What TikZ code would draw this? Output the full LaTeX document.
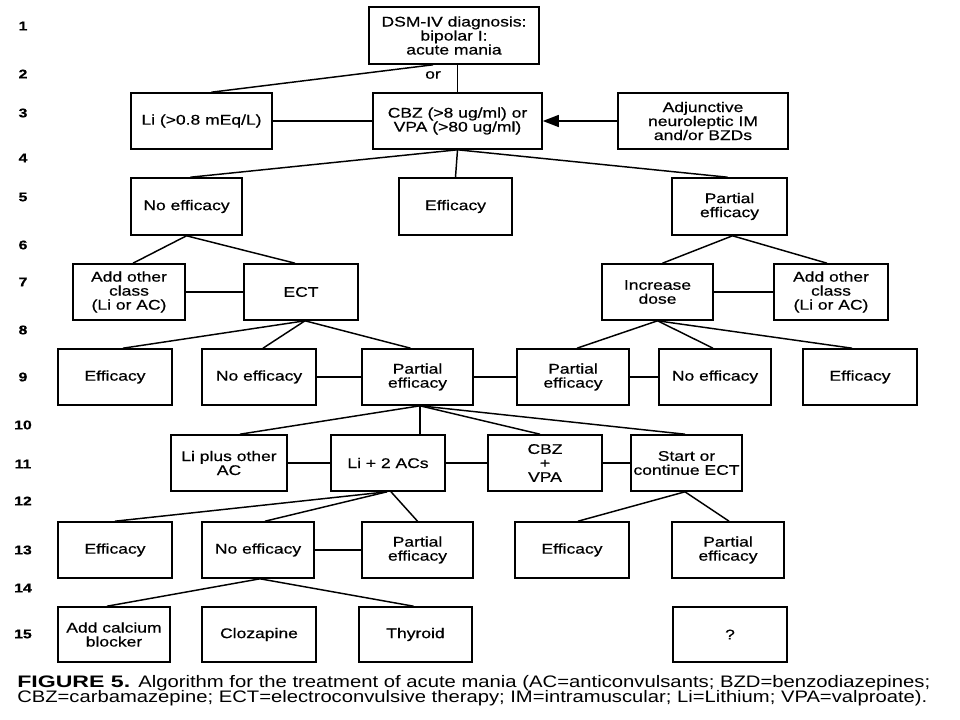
\documentclass[tikz,border=0pt]{standalone}
\usepackage{fontspec}
\setmainfont{Liberation Sans}
\newfontfamily\boxfont[FakeStretch=1.25,FakeBold=0.6]{Liberation Sans}
\usetikzlibrary{arrows.meta,calc}
\newcommand\bx[6]{\node[box, minimum width={(#4-#2)*0.75pt}, minimum height={(#5-#3)*0.75pt}] (#1) at ({(#2+#4)/2},{(#3+#5)/2}) {#6};}
\tikzset{
  box/.style={draw, line width=1.2pt, inner sep=0pt, align=center,
    font=\boxfont\fontsize{10.5}{10.5}\selectfont},
  conn/.style={line width=1.1pt},
  rownum/.style={inner sep=0pt, font=\boxfont\bfseries\fontsize{9.5}{10}\selectfont},
  captxt/.style={anchor=base west, inner sep=0pt}
}
\begin{document}
\begin{tikzpicture}[x=0.75pt, y=-0.75pt]
\fill[white] (0,0) rectangle (960,720);
\useasboundingbox (0,0) rectangle (960,720);

% row numbers
\foreach \n/\yy in {1/26,2/74,3/113,4/158,5/197,6/245,7/282,8/330,9/377,10/425,11/464,12/501,13/550,14/588,15/634}
  \node[rownum] (r\n) at (23,\yy) {\n};

% boxes
\bx{dsm}{369}{7}{539}{64}{DSM-IV diagnosis:\\bipolar I:\\acute mania}
\bx{li}{131}{93}{272}{149}{Li (>0.8 mEq/L)}
\bx{cbz}{373}{93}{542}{149}{CBZ (>8 ug/ml) or\\VPA (>80 ug/ml)}
\bx{adj}{618}{93}{788}{149}{Adjunctive\\neuroleptic IM\\and/or BZDs}
\bx{noA}{131}{178}{242}{235}{No efficacy}
\bx{effA}{399}{178}{512}{235}{Efficacy}
\bx{parA}{672}{178}{787}{235}{Partial\\efficacy}
\bx{addL}{73}{264}{185}{320}{Add other\\class\\(Li or AC)}
\bx{ect}{244}{264}{358}{320}{ECT}
\bx{inc}{602}{264}{713}{320}{Increase\\dose}
\bx{addR}{774}{264}{888}{320}{Add other\\class\\(Li or AC)}
\bx{effB}{58}{349}{172}{405}{Efficacy}
\bx{noB}{202}{349}{316}{405}{No efficacy}
\bx{parB}{362}{349}{473}{405}{Partial\\efficacy}
\bx{parC}{517}{349}{629}{405}{Partial\\efficacy}
\bx{noC}{659}{349}{771}{405}{No efficacy}
\bx{effC}{803}{349}{917}{405}{Efficacy}
\bx{liplus}{171}{435}{287}{491}{Li plus other\\AC}
\bx{li2}{331}{435}{445}{491}{Li + 2 ACs}
\bx{cv}{488}{435}{602}{491}{CBZ\\+\\VPA}
\bx{sect}{631}{435}{742}{491}{Start or\\continue ECT}
\bx{effD}{58}{522}{172}{578}{Efficacy}
\bx{noD}{202}{522}{314}{578}{No efficacy}
\bx{parD}{362}{522}{473}{578}{Partial\\efficacy}
\bx{effE}{515}{522}{629}{578}{Efficacy}
\bx{parE}{672}{522}{784}{578}{Partial\\efficacy}
\bx{cal}{58}{607}{170}{662}{Add calcium\\blocker}
\bx{clo}{202}{607}{316}{662}{Clozapine}
\bx{thy}{359}{607}{472}{662}{Thyroid}
\bx{q}{673}{607}{787}{662}{?}

\node[inner sep=0pt, font=\boxfont\fontsize{10.5}{10.5}\selectfont] (or) at (433,75) {or};

% connectors
\draw[conn] ($(dsm.south)+(-21,0)$) -- ($(li.north)+(10,0)$);
\draw[conn] (cbz.north |- dsm.south) -- (cbz.north);
\draw[conn] (li.east) -- (cbz.west);
\draw[conn, -{Triangle[length=12pt,width=9pt]}] (adj.west) -- (cbz.east);
\draw[conn] (cbz.south) -- ($(noA.north)+(4,0)$);
\draw[conn] (cbz.south) -- (effA.north);
\draw[conn] (cbz.south) -- ($(parA.north)+(-2,0)$);
\draw[conn] (noA.south) -- ($(addL.north)+(4,0)$);
\draw[conn] (noA.south) -- ($(ect.north)+(-6,0)$);
\draw[conn] (addL.east) -- (ect.west);
\draw[conn] ($(parA.south)+(3,0)$) -- ($(inc.north)+(5,0)$);
\draw[conn] ($(parA.south)+(3,0)$) -- ($(addR.north)+(-4,0)$);
\draw[conn] (inc.east) -- (addR.west);
\draw[conn] ($(ect.south)+(4,0)$) -- ($(effB.north)+(8,0)$);
\draw[conn] ($(ect.south)+(4,0)$) -- ($(noB.north)+(4,0)$);
\draw[conn] ($(ect.south)+(4,0)$) -- ($(parB.north)+(-7,0)$);
\draw[conn] (noB.east) -- (parB.west);
\draw[conn] (parB.east) -- (parC.west);
\draw[conn] (parC.east) -- (noC.west);
\draw[conn] (inc.south) -- ($(parC.north)+(4,0)$);
\draw[conn] (inc.south) -- ($(noC.north)+(-2,0)$);
\draw[conn] (inc.south) -- ($(effC.north)+(-8,0)$);
\coordinate (pbS) at ($(parB.south)+(2.5,0)$);
\draw[conn] (pbS) -- ($(liplus.north)+(11,0)$);
\draw[conn] (pbS) -- (pbS |- li2.north);
\draw[conn] (pbS) -- ($(cv.north)+(-5,0)$);
\draw[conn] (pbS) -- ($(sect.north)+(-1.5,0)$);
\draw[conn] (liplus.east) -- (li2.west);
\draw[conn] (li2.east) -- (cv.west);
\draw[conn] (cv.east) -- (sect.west);
\draw[conn] ($(li2.south)+(-1,0)$) -- (effD.north);
\draw[conn] ($(li2.south)+(-1,0)$) -- ($(noD.north)+(7,0)$);
\draw[conn] ($(li2.south)+(3,0)$) -- (parD.north);
\draw[conn] (noD.east) -- (parD.west);
\draw[conn] ($(sect.south)+(-1.5,0)$) -- ($(effE.north)+(6,0)$);
\draw[conn] ($(sect.south)+(-1.5,0)$) -- ($(parE.north)+(1,0)$);
\draw[conn] ($(parE.south)+(2,0)$) -- ($(parE.south)+(2,0)$ |- q.north);
\draw[conn] ($(noD.south)+(2,0)$) -- ($(cal.north)+(-7,0)$);
\draw[conn] ($(noD.south)+(2,0)$) -- ($(noD.south)+(2,0)$ |- clo.north);
\draw[conn] ($(noD.south)+(2,0)$) -- ($(thy.north)+(-2,0)$);

% caption
\node[captxt] (cap1a) at (17,687) {\resizebox{84.75pt}{\height}{\fontsize{12.5}{14}\selectfont\textbf{FIGURE 5.}}};
\node[captxt] (cap1b) at (138,687) {\resizebox{594pt}{\height}{\fontsize{12.5}{14}\selectfont Algorithm for the treatment of acute mania (AC=anticonvulsants; BZD=benzodiazepines;}};
\node[captxt] (cap2) at (17,702) {\resizebox{682.5pt}{\height}{\fontsize{12.5}{14}\selectfont CBZ=carbamazepine; ECT=electroconvulsive therapy; IM=intramuscular; Li=Lithium; VPA=valproate).}};
\end{tikzpicture}
\end{document}
